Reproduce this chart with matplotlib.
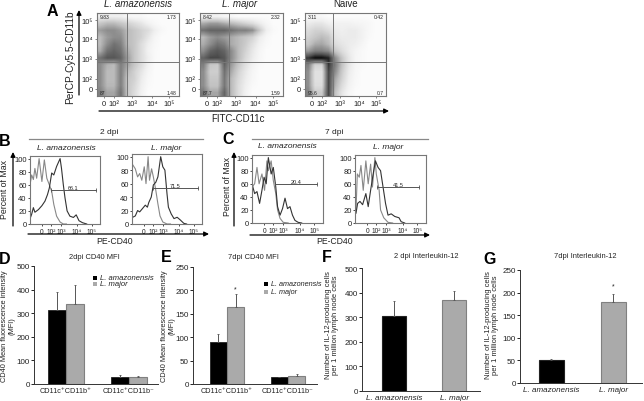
import matplotlib
matplotlib.use('Agg')
import matplotlib.pyplot as plt
import numpy as np

plt.rcParams['font.family'] = ['Liberation Sans', 'DejaVu Sans']

W, H = 644, 402

# panel A, darkness of the dot clouds, top row first
dens_ama = [
    [.10, .10, .10, .10, .05, .03, .03, .00, .00, .00, .00, .00],
    [.30, .35, .35, .30, .25, .20, .15, .08, .03, .00, .00, .00],
    [.45, .50, .50, .45, .35, .30, .25, .20, .10, .03, .00, .00],
    [.35, .45, .50, .50, .35, .30, .25, .15, .05, .00, .00, .00],
    [.35, .50, .60, .55, .35, .30, .20, .10, .03, .00, .00, .00],
    [.40, .60, .65, .60, .40, .30, .20, .08, .02, .00, .00, .00],
    [.60, .70, .70, .65, .45, .30, .20, .10, .02, .00, .00, .00],
    [.50, .38, .35, .55, .42, .30, .20, .08, .00, .00, .00, .00],
    [.50, .35, .35, .55, .35, .25, .15, .05, .00, .00, .00, .00],
    [.50, .35, .35, .55, .30, .25, .12, .03, .00, .00, .00, .00],
    [.50, .36, .36, .55, .30, .22, .10, .02, .00, .00, .00, .00],
    [.55, .42, .42, .60, .30, .20, .08, .00, .00, .00, .00, .00],
]
dens_maj = [
    [.08, .08, .08, .05, .03, .00, .00, .00, .00, .00, .00, .00],
    [.40, .45, .45, .40, .35, .30, .25, .20, .12, .05, .00, .00],
    [.60, .65, .65, .65, .60, .55, .55, .50, .30, .10, .02, .00],
    [.35, .45, .50, .45, .40, .35, .30, .25, .12, .04, .00, .00],
    [.40, .50, .60, .55, .40, .35, .28, .18, .08, .02, .00, .00],
    [.50, .65, .70, .65, .50, .35, .25, .14, .05, .00, .00, .00],
    [.65, .75, .75, .70, .50, .35, .22, .12, .04, .00, .00, .00],
    [.55, .30, .28, .65, .45, .30, .18, .08, .02, .00, .00, .00],
    [.50, .27, .27, .60, .40, .25, .14, .05, .00, .00, .00, .00],
    [.50, .30, .30, .58, .35, .22, .12, .04, .00, .00, .00, .00],
    [.50, .32, .32, .58, .35, .20, .10, .02, .00, .00, .00, .00],
    [.58, .42, .42, .65, .35, .20, .08, .00, .00, .00, .00, .00],
]
dens_naive = [
    [.03, .03, .03, .00, .00, .00, .00, .00, .00, .00, .00, .00],
    [.12, .15, .15, .10, .08, .08, .08, .06, .05, .03, .00, .00],
    [.20, .25, .25, .20, .12, .10, .12, .12, .08, .03, .00, .00],
    [.25, .30, .35, .30, .15, .12, .12, .12, .08, .02, .00, .00],
    [.30, .40, .42, .35, .20, .15, .12, .10, .05, .00, .00, .00],
    [.45, .55, .55, .50, .30, .20, .12, .06, .02, .00, .00, .00],
    [.80, .92, .92, .85, .50, .30, .15, .05, .02, .00, .00, .00],
    [.55, .25, .25, .80, .55, .32, .15, .05, .02, .00, .00, .00],
    [.50, .18, .18, .75, .50, .28, .12, .04, .00, .00, .00, .00],
    [.50, .18, .18, .75, .42, .25, .10, .03, .00, .00, .00, .00],
    [.50, .20, .20, .75, .38, .20, .08, .02, .00, .00, .00, .00],
    [.55, .28, .28, .75, .32, .15, .05, .00, .00, .00, .00, .00],
]
quad_ama = ['9.83', '1.73', '87', '1.48']
quad_maj = ['8.42', '2.32', '87.7', '1.59']
quad_naive = ['3.11', '0.42', '95.6', '0.7']

# histograms, x is % of the plot width
b1_x_ctrl = [0, 2.4, 4.8, 7, 9.5, 13, 17, 20.5, 24, 27.6, 31, 34, 38, 43, 47.6, 52]
b1_y_ctrl = [60, 75, 68, 85, 70, 100, 65, 98, 70, 60, 50, 30, 12, 3, 0, 0]
b1_x_cd40 = [0, 2.4, 4.8, 7, 12, 17, 21.4, 25, 27.6, 31, 34, 38, 43, 45, 47.6, 50, 53, 57, 62, 66, 70, 75, 81]
b1_y_cd40 = [8, 15, 25, 18, 22, 28, 35, 45, 55, 78, 75, 88, 100, 85, 60, 40, 20, 12, 10, 14, 5, 2, 0]
b2_x_ctrl = [1, 4.7, 8, 11, 14, 17.5, 20, 23, 25, 28, 30.5, 34, 37, 40, 44, 50, 55]
b2_y_ctrl = [88, 82, 70, 75, 65, 85, 60, 100, 65, 82, 70, 50, 30, 12, 3, 0, 0]
b2_x_cd40 = [1, 4.7, 8, 11, 15, 19, 22, 24, 27.5, 30.5, 34, 37, 41, 44, 47, 50, 52, 56, 60, 64.5, 69, 74, 78]
b2_y_cd40 = [10, 12, 20, 18, 23, 28, 25, 32, 40, 58, 62, 70, 100, 85, 80, 45, 25, 15, 8, 10, 6, 1, 0]
c1_x_ctrl = [0, 3.7, 7, 10, 14, 17.7, 21, 23, 27, 30, 33.5, 36, 39.5, 44, 51]
c1_y_ctrl = [55, 60, 85, 60, 75, 50, 95, 80, 95, 65, 45, 20, 7, 1, 0]
c1_x_cd40 = [0, 3.7, 7, 10.7, 14, 17, 20, 23, 27, 30, 33.5, 36, 39.5, 43, 46.5, 50, 53.5, 57, 60.5, 65, 70]
c1_y_cd40 = [60, 45, 48, 30, 50, 70, 60, 100, 75, 85, 55, 25, 12, 22, 38, 22, 25, 12, 4, 1, 0]
c2_x_ctrl = [1.4, 3.3, 6, 8.4, 11.6, 15.3, 18.6, 22, 24.6, 28, 30, 34, 36, 40.5, 46.5, 53]
c2_y_ctrl = [20, 75, 70, 88, 50, 95, 60, 90, 55, 100, 75, 50, 20, 8, 1, 0]
c2_x_cd40 = [1.4, 3.7, 7, 10.7, 15.3, 18.6, 22, 25.6, 28.8, 32.5, 36, 39.5, 43, 46.5, 51, 56, 62, 65, 70]
c2_y_cd40 = [15, 30, 33, 28, 45, 25, 50, 75, 95, 85, 80, 55, 30, 12, 14, 10, 8, 2, 0]

# bars
cell_groups = ['CD11c⁺CD11b⁺', 'CD11c⁺CD11b⁻']
mfi2_ama = [315, 30]
mfi2_maj = [338, 30]
mfi2_ama_err = [75, 10]
mfi2_maj_err = [82, 3]
mfi7_ama = [90, 14]
mfi7_maj = [165, 17]
mfi7_ama_err = [17, 2]
mfi7_maj_err = [28, 4]
species = ['L. amazonensis', 'L. major']
il12_2 = [305, 371]
il12_2_err = [60, 37]
il12_7 = [50, 180]
il12_7_err = [4, 18]

fig = plt.figure(figsize=(W / 100, H / 100), dpi=100)
fig.patch.set_facecolor('white')


def px_axes(l, t, r, b):
    return fig.add_axes([l / W, 1 - b / H, (r - l) / W, (b - t) / H])


def txt(x, y, s, size=6, **kw):
    kw.setdefault('ha', 'center')
    kw.setdefault('va', 'center')
    kw.setdefault('color', '#222222')
    fig.text(x / W, 1 - y / H, s, fontsize=size, **kw)


def arrow(x0, y0, x1, y1):
    fig.add_artist(matplotlib.patches.FancyArrowPatch(
        (x0 / W, 1 - y0 / H), (x1 / W, 1 - y1 / H), transform=fig.transFigure,
        arrowstyle='-|>', mutation_scale=7, lw=0.9, color='black',
        shrinkA=0, shrinkB=0))


def line(x0, x1, y):
    fig.add_artist(plt.Line2D([x0 / W, x1 / W], [1 - y / H, 1 - y / H],
                              color='#888888', lw=0.9))


# panel A
dot_xticks = [7, 17, 35, 55, 72]
dot_yticks = [7, 17, 37, 57, 76]
log_labels = ['0', '10²', '10³', '10⁴', '10⁵']
for i, (box, grid, vx, names) in enumerate([
        ((97, 14, 179, 97), dens_ama, .366, quad_ama),
        ((200, 14, 283, 97), dens_maj, .35, quad_maj),
        ((305, 14, 386, 97), dens_naive, .346, quad_naive)]):
    ax = px_axes(*box)
    ax.set_facecolor('#f7f7f7')
    ax.imshow(np.array(grid) + 0.03, cmap='Greys', vmin=0, vmax=1, aspect='auto',
              extent=(0, 100, 0, 100), interpolation='bilinear', origin='upper')
    ax.axvline(vx * 100, color='#777777', lw=0.7)
    ax.axhline(41, color='#777777', lw=0.7)
    ax.set_xlim(0, 100)
    ax.set_ylim(0, 100)
    ax.set_xticks(np.array(dot_xticks) * 100 / 82, log_labels, fontsize=5.5, color='#222222')
    ax.set_yticks(np.array(dot_yticks) * 100 / 83, log_labels, fontsize=5.5, color='#222222')
    ax.tick_params(length=1.5, width=0.5, pad=1.5, color='#555555')
    for s in ax.spines.values():
        s.set_color('#777777')
        s.set_linewidth(0.8)
    for (qx, qy, ha), label in zip([(3, 96, 'left'), (97, 96, 'right'), (3, 4, 'left'), (97, 4, 'right')], names):
        ax.text(qx, qy, label, fontsize=3.6, ha=ha, va='center', color='#222222')

txt(138, 4, 'L. amazonensis', 7, style='italic')
txt(240, 4, 'L. major', 7, style='italic')
txt(346, 4, 'Naive', 7)
arrow(79, 96, 79, 11)
arrow(99, 112, 389, 112)
txt(70, 57, 'PerCP-Cy5.5-CD11b', 7.3, rotation=90)
txt(238, 119, 'FITC-CD11c', 7)

# panels B and C
hist_xticks = [17, 30, 44, 67, 88]
for box, xc, yc, xd, yd, gate_y, gate_l, gate_r, gate_txt in [
        ((30, 157, 100, 225), b1_x_ctrl, b1_y_ctrl, b1_x_cd40, b1_y_cd40, 52, 30, 94, '66.1'),
        ((132, 155, 202, 225), b2_x_ctrl, b2_y_ctrl, b2_x_cd40, b2_y_cd40, 53, 30, 94, '71.5'),
        ((252, 156, 323, 224), c1_x_ctrl, c1_y_ctrl, c1_x_cd40, c1_y_cd40, 59, 32.5, 91, '20.4'),
        ((355, 156, 426, 224), c2_x_ctrl, c2_y_ctrl, c2_x_cd40, c2_y_cd40, 55, 31.6, 90.7, '41.5')]:
    ax = px_axes(*box)
    ax.plot(xc, yc, color='#888888', lw=0.8)
    ax.plot(xd, yd, color='#333333', lw=0.8)
    ax.plot([gate_l, gate_r], [gate_y, gate_y], color='#555555', lw=0.7,
            marker='|', markersize=2.5, markeredgewidth=0.6)
    ax.text((gate_l + gate_r) / 2, gate_y + 4, gate_txt, fontsize=4, ha='center', va='center', color='#222222')
    ax.set_xlim(0, 100)
    ax.set_ylim(0, 104)
    ax.set_xticks(hist_xticks, log_labels, fontsize=4.8, color='#222222')
    ax.set_yticks([0, 20, 40, 60, 80, 100])
    ax.tick_params(axis='y', labelsize=5.5, labelcolor='#222222', length=1.5, width=0.5, pad=1)
    ax.tick_params(axis='x', length=1.5, width=0.5, pad=1.5)
    for s in ax.spines.values():
        s.set_color('#777777')
        s.set_linewidth(0.8)

txt(109, 133, '2 dpi', 6)
line(29, 203, 140)
txt(334, 133, '7 dpi', 6)
line(252, 428, 140)
txt(66, 149, 'L. amazonensis', 6, style='italic')
txt(166, 149, 'L. major', 6, style='italic')
txt(287, 147, 'L. amazonensis', 6, style='italic')
txt(388, 148, 'L. major', 6, style='italic')
arrow(13, 227, 13, 153)
arrow(234, 227, 234, 153)
arrow(28, 235, 209, 235)
arrow(250, 236, 430, 236)
txt(5, 190, 'Percent of Max', 6.3, rotation=90)
txt(228, 187, 'Percent of Max', 6.3, rotation=90)
txt(115, 242, 'PE-CD40', 6.2)
txt(335, 242, 'PE-CD40', 6.2)


def style_bars(ax):
    ax.spines['top'].set_visible(False)
    ax.spines['right'].set_visible(False)
    for s in ['left', 'bottom']:
        ax.spines[s].set_color('#333333')
        ax.spines[s].set_linewidth(0.7)
    ax.tick_params(axis='y', labelsize=5.8, labelcolor='#222222', length=2, width=0.6, pad=1)
    ax.tick_params(axis='x', length=0, pad=2)


# panels D and E
for box, ylim, ticks, a, m, ae, me, xlim in [
        ((34, 267, 158, 385), 500, [0, 100, 200, 300, 400, 500], mfi2_ama, mfi2_maj, mfi2_ama_err, mfi2_maj_err, (-.508, 1.46)),
        ((193, 268, 317, 385), 250, [0, 50, 100, 150, 200, 250], mfi7_ama, mfi7_maj, mfi7_ama_err, mfi7_maj_err, (-.557, 1.475))]:
    ax = px_axes(*box)
    pos = np.arange(2)
    ax.bar(pos - .14, a, .28, color='black', edgecolor='#222222', lw=0.6)
    ax.bar(pos + .14, m, .28, color='#aaaaaa', edgecolor='#808080', lw=0.8)
    ax.errorbar(pos - .14, a, yerr=[[0, 0], ae], fmt='none', ecolor='#555555', elinewidth=0.7, capsize=0.8, capthick=0.6)
    ax.errorbar(pos + .14, m, yerr=[[0, 0], me], fmt='none', ecolor='#555555', elinewidth=0.7, capsize=0.8, capthick=0.6)
    ax.set_xlim(*xlim)
    ax.set_ylim(0, ylim)
    ax.set_yticks(ticks)
    ax.set_xticks(pos, cell_groups, fontsize=5.2, color='#222222')
    style_bars(ax)
    if ylim == 250:
        ax.text(pos[0] + .14, 203, '*', fontsize=5, ha='center', va='center', color='#222222')

txt(94, 258, '2dpi CD40 MFI', 5.4)
txt(253, 258, '7dpi CD40 MFI', 5.4)
txt(8, 326, 'CD40 Mean fluorescence intensity\n(MFI)', 5.3, rotation=90, multialignment='center', linespacing=1.1)
txt(168, 326, 'CD40 Mean fluorescence intensity\n(MFI)', 5.3, rotation=90, multialignment='center', linespacing=1.1)

# legends of D and E
for sq_x, txt_x, size, y1, y2 in [(95, 100, 5.5, 279, 285), (266, 271, 5.2, 285, 293)]:
    for y, col, label in [(y1, 'black', species[0]), (y2, '#aaaaaa', species[1])]:
        fig.add_artist(plt.Rectangle(((sq_x - 2) / W, 1 - (y + 2) / H), 4 / W, 4 / H,
                                     transform=fig.transFigure, color=col, lw=0))
        txt(txt_x, y, label, size, style='italic', ha='left')

# panels F and G
for box, ylim, ticks, vals, errs, xlim in [
        ((362, 269, 480, 392), 500, [0, 100, 200, 300, 400, 500], il12_2, il12_2_err, (-.533, 1.43)),
        ((520, 271, 642, 384), 250, [0, 50, 100, 150, 200, 250], il12_7, il12_7_err, (-.508, 1.46))]:
    ax = px_axes(*box)
    pos = np.arange(2)
    ax.bar(pos, vals, .4, color=['black', '#aaaaaa'], edgecolor=['#222222', '#808080'], lw=0.8)
    ax.errorbar(pos, vals, yerr=[[0, 0], errs], fmt='none', ecolor='#555555', elinewidth=0.7, capsize=0.8, capthick=0.6)
    ax.set_xlim(*xlim)
    ax.set_ylim(0, ylim)
    ax.set_yticks(ticks)
    ax.set_xticks(pos, species, fontsize=5.8, style='italic', color='#222222')
    style_bars(ax)
    if ylim == 250:
        ax.text(1, 215, '*', fontsize=5, ha='center', va='center', color='#222222')

txt(426, 257, '2 dpi Interleukin-12', 5.4)
txt(585, 257, '7dpi Interleukin-12', 5.4)
txt(332, 325, 'Number of IL-12-producing cells\nper 1 million lymph node cells', 5.4, rotation=90, multialignment='center', linespacing=1.1)
txt(492, 325, 'Number of IL-12-producing cells\nper 1 million lymph node cells', 5.4, rotation=90, multialignment='center', linespacing=1.1)

# panel letters
for x, y, s in [(52, 12, 'A'), (5, 141, 'B'), (228, 140, 'C'), (5, 259, 'D'),
                (166, 258, 'E'), (327, 258, 'F'), (490, 259, 'G')]:
    txt(x, y, s, 11.5, weight='bold', color='black')

fig.savefig('out.png', dpi=100)
